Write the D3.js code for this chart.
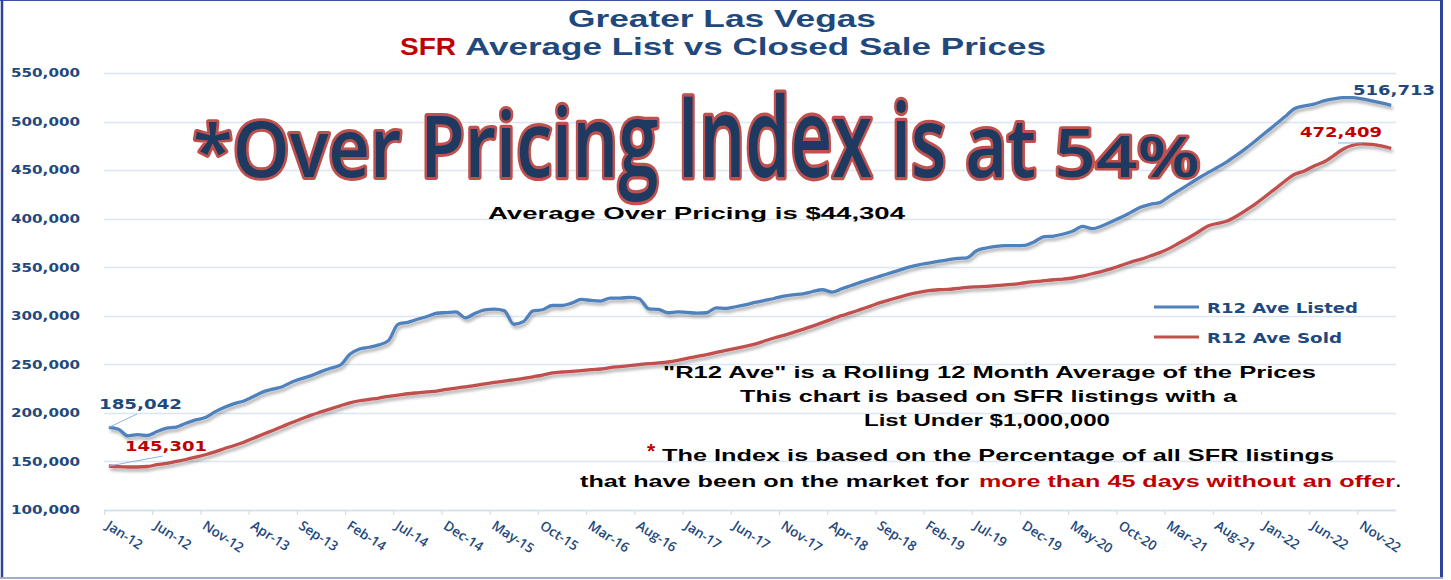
<!DOCTYPE html>
<html>
<head>
<meta charset="utf-8">
<title>Greater Las Vegas SFR</title>
<script src="https://d3js.org/d3.v7.min.js"></script>
<style>
body { margin: 0; background: #fff; }
</style>
</head>
<body>
<svg id="chart" width="1451" height="580"></svg>
<script>
// categories: Jan-12 .. Feb-23
const monthNames = ['Jan','Feb','Mar','Apr','May','Jun','Jul','Aug','Sep','Oct','Nov','Dec'];
const years = [12,13,14,15,16,17,18,19,20,21,22,23];
const months = [];
years.forEach(y => monthNames.forEach(m => months.push(m + '-' + y)));
const categories = months.slice(0, 134);

// R12 Ave Listed
const listed = [
185042,183200,176300,177700,176700,180800,184200,185300,189400,192800,
195200,201000,205800,209600,212300,216800,221600,224400,227000,231900,
235300,238400,242500,246000,249100,260400,265800,267600,270000,274400,
291300,293300,296400,299300,302600,303300,304000,297900,302600,306000,
306800,305300,291300,294000,305000,306200,310600,310600,313000,316800,
315800,315100,318200,318200,318900,317500,307200,306500,303100,304100,
303400,302700,303100,308200,307500,309300,311300,313700,315800,317800,
320200,321600,322600,325000,326800,324400,327800,331200,334600,337700,
340800,343900,347000,350100,352500,354200,355900,357600,359000,359700,
367000,369800,371500,372200,372200,372500,376300,381500,382100,384200,
387300,392100,389700,392500,396900,401400,406500,411700,414800,416500,
423000,429200,435400,441600,447400,452900,458800,465600,472900,480800,
489000,496900,505200,513400,516100,517900,521300,523400,524700,524700,
523400,521300,519200,516713];

// R12 Ave Sold
const sold = [
145301,144600,144300,144300,144800,146600,148000,150000,152000,154400,
156900,159900,163300,166400,169800,173900,178000,181900,186000,190100,
193900,197700,201000,204200,207300,210400,212500,213900,215300,217000,
218300,219700,220700,221600,222400,224200,225500,226900,228300,230000,
231400,232700,234100,235500,237200,239000,241100,242100,242800,243500,
244500,245200,246600,247600,248600,249700,250700,251400,252400,254100,
256200,258200,259900,262300,264400,266500,268500,270900,274000,277100,
279800,282900,286000,289400,292900,296600,300100,303200,306600,310000,
313500,316500,319300,322000,324100,325800,326800,327200,328200,329200,
329800,330300,331000,331800,332700,334000,335100,336100,337100,337800,
338900,340900,343300,345700,348500,351900,355300,358100,361500,365000,
369400,374900,380400,386300,392500,395200,397600,402800,409000,415800,
423400,430900,438800,445700,449100,454300,458400,464600,471500,475600,
477000,476600,474900,472409];

const yTicks = [100000,150000,200000,250000,300000,350000,400000,450000,500000,550000];
const xTickLabels = categories.filter((d, i) => i % 5 === 0);

const svg = d3.select('#chart');
const navy = '#1F497D', blue = '#4F81BD', red = '#C0504D', darkRed = '#C00000';

const x = d3.scaleBand().domain(categories).range([104, 1396]).paddingInner(0).paddingOuter(0);
const y = d3.scaleLinear().domain([100000, 550000]).range([510, 73]);
const cx = d => x(d) + x.bandwidth() / 2;

// shadow for the lines
const defs = svg.append('defs');
defs.append('filter').attr('id', 'shadow').attr('x', '-5%').attr('y', '-10%').attr('width', '110%').attr('height', '130%')
  .append('feDropShadow').attr('dx', 1.5).attr('dy', 3).attr('stdDeviation', 1.6)
  .attr('flood-color', '#000').attr('flood-opacity', 0.3);

// frame
svg.append('line').attr('x1', 0).attr('x2', 1443).attr('y1', 0.5).attr('y2', 0.5).attr('stroke', '#3A53A4').attr('stroke-width', 1);
svg.append('line').attr('x1', 2).attr('x2', 2).attr('y1', 0).attr('y2', 579).attr('stroke', '#2E449A').attr('stroke-width', 2.5);
svg.append('line').attr('x1', 1441.5).attr('x2', 1441.5).attr('y1', 0).attr('y2', 579).attr('stroke', '#2E449A').attr('stroke-width', 3);
svg.append('line').attr('x1', 0).attr('x2', 1443).attr('y1', 578).attr('y2', 578).attr('stroke', '#A3ACC6').attr('stroke-width', 2);

// gridlines
svg.append('g').selectAll('line').data(yTicks).join('line')
  .attr('x1', 104).attr('x2', 1396)
  .attr('y1', d => Math.round(y(d)) + 0.5).attr('y2', d => Math.round(y(d)) + 0.5)
  .attr('stroke', '#DCE6F2').attr('stroke-width', 1.5);

// y axis labels
const yAxis = svg.append('g').attr('transform', 'translate(80,0)')
  .call(d3.axisLeft(y).tickValues(yTicks).tickSize(0).tickPadding(0).tickFormat(d3.format(',')));
yAxis.select('.domain').remove();
yAxis.selectAll('text')
  .attr('font-family', 'DejaVu Sans').attr('font-weight', 'bold').attr('font-size', 12)
  .attr('fill', navy).attr('textLength', 69).attr('lengthAdjust', 'spacingAndGlyphs');

// x axis line and ticks
const xAxis = svg.append('g').attr('transform', 'translate(0,510)');
xAxis.append('line').attr('x1', 104).attr('x2', 1396).attr('y1', 0.5).attr('y2', 0.5).attr('stroke', '#D3DFEE').attr('stroke-width', 1.5);
xAxis.selectAll('line.tick').data(xTickLabels).join('line').attr('class', 'tick')
  .attr('x1', d => x(d) + 0.5).attr('x2', d => x(d) + 0.5).attr('y1', 0).attr('y2', 5)
  .attr('stroke', '#D3DFEE').attr('stroke-width', 1.2);
xAxis.selectAll('text').data(xTickLabels).join('text')
  .attr('transform', d => `translate(${x(d) + 1},18) rotate(33)`)
  .attr('font-family', 'Open Sans').attr('font-weight', 600).attr('font-size', 13.5)
  .attr('fill', navy).text(d => d);

// lines
const line = d3.line().x((d, i) => cx(categories[i])).y(d => y(d)).curve(d3.curveMonotoneX);
svg.append('path').datum(sold).attr('d', line).attr('fill', 'none')
  .attr('stroke', red).attr('stroke-width', 3.3).attr('stroke-linejoin', 'round').attr('filter', 'url(#shadow)');
svg.append('path').datum(listed).attr('d', line).attr('fill', 'none')
  .attr('stroke', blue).attr('stroke-width', 3.3).attr('stroke-linejoin', 'round').attr('filter', 'url(#shadow)');

// data labels with leader lines
const first = 0, last = categories.length - 1;
const leader = '#8DB3E2';
svg.append('line').attr('x1', cx(categories[first])).attr('y1', y(listed[first])).attr('x2', 137).attr('y2', 414).attr('stroke', leader).attr('stroke-width', 1);
svg.append('line').attr('x1', cx(categories[first])).attr('y1', y(sold[first])).attr('x2', 163).attr('y2', 456).attr('stroke', leader).attr('stroke-width', 1);
svg.append('line').attr('x1', 1338).attr('y1', 143).attr('x2', cx(categories[last - 3])).attr('y2', y(sold[last - 3]) - 1).attr('stroke', leader).attr('stroke-width', 1);

function numLabel(v, lx, ly, color, len) {
  svg.append('text').attr('x', lx).attr('y', ly).text(d3.format(',')(v))
    .attr('font-family', 'DejaVu Sans').attr('font-weight', 'bold').attr('font-size', 14)
    .attr('fill', color).attr('textLength', len).attr('lengthAdjust', 'spacingAndGlyphs');
}
numLabel(listed[first], 99, 409, navy, 83);
numLabel(sold[first], 125, 451, darkRed, 82);
numLabel(listed[last], 1353, 95, navy, 82);
numLabel(sold[last], 1300, 137, darkRed, 82);

// legend
const legend = [{name: 'R12 Ave Listed', color: blue, y: 307, len: 151}, {name: 'R12 Ave Sold', color: red, y: 337, len: 135}];
legend.forEach(l => {
  svg.append('line').attr('x1', 1154).attr('x2', 1199).attr('y1', l.y).attr('y2', l.y).attr('stroke', l.color).attr('stroke-width', 3);
  svg.append('text').attr('x', 1207).attr('y', l.y + 5.5).text(l.name)
    .attr('font-family', 'DejaVu Sans').attr('font-weight', 'bold').attr('font-size', 14)
    .attr('fill', navy).attr('textLength', l.len).attr('lengthAdjust', 'spacingAndGlyphs');
});

// titles
function fitText(str, x0, x1, by, color, family, weight, size) {
  return svg.append('text').attr('x', x0).attr('y', by).text(str)
    .attr('font-family', family).attr('font-weight', weight).attr('font-size', size)
    .attr('fill', color).attr('textLength', x1 - x0).attr('lengthAdjust', 'spacingAndGlyphs');
}
const arial = 'Liberation Sans';
fitText('Greater Las Vegas', 568, 876, 27, navy, arial, 'bold', 23);
fitText('SFR', 400, 456, 55, darkRed, arial, 'bold', 23);
fitText('Average List vs Closed Sale Prices', 465, 1046, 55, navy, arial, 'bold', 23);

// notes
fitText('Average Over Pricing is $44,304', 488, 905, 219, '#000', arial, 'bold', 17);
fitText('"R12 Ave" is a Rolling 12 Month Average of the Prices', 663, 1316, 378, '#000', arial, 'bold', 16.5);
fitText('This chart is based on SFR listings with a', 740, 1237, 402, '#000', arial, 'bold', 16.5);
fitText('List Under $1,000,000', 864, 1110, 426, '#000', arial, 'bold', 16.5);
svg.append('text').attr('x', 647).attr('y', 458).text('*').attr('font-family', arial).attr('font-weight', 'bold').attr('font-size', 21).attr('fill', darkRed);
fitText('The Index is based on the Percentage of all SFR listings', 662, 1334, 461, '#000', arial, 'bold', 16.5);
fitText('that have been on the market for', 580, 969, 487, '#000', arial, 'bold', 16.5);
fitText('more than 45 days without an offer', 979, 1395, 487, darkRed, arial, 'bold', 16.5);
svg.append('text').attr('x', 1396).attr('y', 487).text('.').attr('font-family', arial).attr('font-weight', 'bold').attr('font-size', 16.5).attr('fill', '#000');

// big warped headline
const bigText = '*Over Pricing Index is at 54%';
const bigSize = 60, capRatio = 0.714;
const heightAt = d3.scaleLinear()
  .domain([193, 250, 420, 560, 690, 800, 905, 960, 1040, 1110, 1200])
  .range([50, 55, 60, 68, 80, 79, 73, 66, 55, 42, 39]).clamp(true);
const big = svg.append('g');
const probe = big.append('text').attr('font-family', 'Open Sans').attr('font-weight', 600).attr('font-size', bigSize).text(bigText);
const total = probe.node().getComputedTextLength();
const starts = bigText.split('').map((c, i) => probe.node().getStartPositionOfChar(i).x);
const ends = bigText.split('').map((c, i) => probe.node().getEndPositionOfChar(i).x);
probe.remove();
const sx = (1200 - 193) / total;
bigText.split('').forEach((c, i) => {
  if (c === ' ') return;
  const px = 193 + starts[i] * sx;
  const mid = 193 + (starts[i] + ends[i]) / 2 * sx;
  const sy = heightAt(mid) / (bigSize * capRatio);
  big.append('text').text(c)
    .attr('transform', `translate(${px},177) scale(${sx},${sy})`)
    .attr('font-family', 'Open Sans').attr('font-weight', 600).attr('font-size', bigSize)
    .attr('fill', '#1F3A60').attr('stroke', '#C0504D').attr('stroke-width', 5.5 / Math.sqrt(sx * sy))
    .attr('stroke-linejoin', 'round').attr('paint-order', 'stroke');
});
</script>
</body>
</html>
